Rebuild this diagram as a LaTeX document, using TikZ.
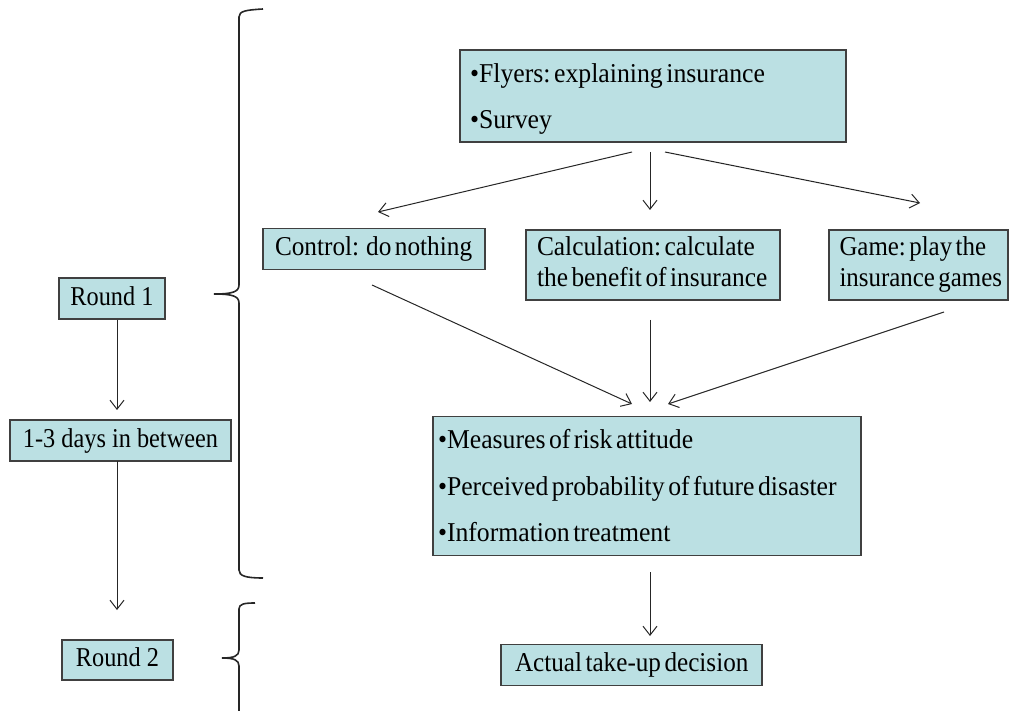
\documentclass[tikz,border=0pt]{standalone}
\usepackage{fontspec}
\setmainfont{Liberation Serif}
\usetikzlibrary{arrows.meta}
\definecolor{boxfill}{HTML}{BBE0E3}
\definecolor{boxline}{HTML}{404040}
\newcommand{\bul}{\textbullet}
\newcommand{\stx}[3][1.045]{\scalebox{#1}[1.12]{\fontsize{24.3}{#2}\selectfont\frenchspacing\begin{tabular}{@{}l@{}}#3\end{tabular}}}
\tikzset{
  box/.style={draw=boxline, line width=1.2pt, fill=boxfill, inner sep=0pt, align=left},
  arr/.style={draw=black!85, line width=1pt, -{Straight Barb[length=9pt,width=14pt,line width=1pt]}},
  brace/.style={draw=black!85, line width=1.6pt}
}
\begin{document}
\begin{tikzpicture}[x=1pt,y=-1pt]
\useasboundingbox (0,0) rectangle (1010,711);
% boxes
\node[box, minimum width=386pt, minimum height=88pt, text width=366pt] (top) at (653,96)
  {\stx[1.06]{41}{\bul Flyers: explaining insurance\\ \bul Survey}};
\node[box, minimum width=222pt, minimum height=41pt, text width=198pt] (ctrl) at (374,249)
  {\stx[1.04]{30}{Control:\ \ do nothing}};
\node[box, minimum width=254pt, minimum height=70pt, text width=232pt] (calc) at (653,265)
  {\stx[1.045]{27.9}{Calculation: calculate\\the benefit of insurance}};
\node[box, minimum width=179pt, minimum height=70pt, text width=158pt] (game) at (918.5,265)
  {\stx[1.025]{27.9}{Game: play the\\insurance games}};
\node[box, minimum width=428pt, minimum height=131pt, text width=418pt] (meas) at (647,486)
  {\stx[1.058]{41.5}{\bul Measures of risk attitude\\ \bul Perceived probability of future disaster\\ \bul Information treatment}};
\node[box, minimum width=261pt, minimum height=41pt, text width=233pt] (act) at (631.5,665)
  {\stx[1.036]{30}{Actual take-up decision}};
\node[box, minimum width=106pt, minimum height=41pt, align=center] (r1) at (112,298.5) {\stx[1]{30}{Round 1}};
\node[box, minimum width=221pt, minimum height=41pt, align=center] (days) at (120.5,440.5) {\stx[1]{30}{1-3 days in between}};
\node[box, minimum width=111pt, minimum height=40pt, align=center] (r2) at (117.5,660) {\stx[1]{30}{Round 2}};
% arrow end coordinates
\coordinate (t1) at (632,152); \coordinate (t1e) at (378,212);
\coordinate (t2) at (650,152); \coordinate (t2e) at (650,210);
\coordinate (t3) at (665,152); \coordinate (t3e) at (920,203);
\coordinate (m1) at (372,285); \coordinate (m1e) at (632,404);
\coordinate (m2) at (650,320); \coordinate (m2e) at (650,402);
\coordinate (m3) at (944,312); \coordinate (m3e) at (668,404);
\coordinate (b1) at (650,572); \coordinate (b1e) at (650,636);
\coordinate (r1e) at (117,410);
\coordinate (d1) at (117,461); \coordinate (d1e) at (117,610);
\draw[arr] (t1) -- (t1e);
\draw[arr] (t2) -- (t2e);
\draw[arr] (t3) -- (t3e);
\draw[arr] (m1) -- (m1e);
\draw[arr] (m2) -- (m2e);
\draw[arr] (m3) -- (m3e);
\draw[arr] (b1) -- (b1e);
\draw[arr] (r1.south -| r1e) -- (r1e);
\draw[arr] (d1) -- (d1e);
% braces
\draw[brace] (263,9) .. controls (246,10) and (239,11) .. (239,17) -- (239,285)
  .. controls (239,292) and (232,294) .. (214,294)
  .. controls (232,294) and (239,296) .. (239,303) -- (239,570)
  .. controls (239,576) and (246,578) .. (263,578);
\draw[brace] (255,603) .. controls (244,603) and (239,604) .. (239,609) -- (239,650)
  .. controls (239,656) and (234,658) .. (222,658)
  .. controls (234,658) and (239,660) .. (239,666) -- (239,711);
\end{tikzpicture}
\end{document}
